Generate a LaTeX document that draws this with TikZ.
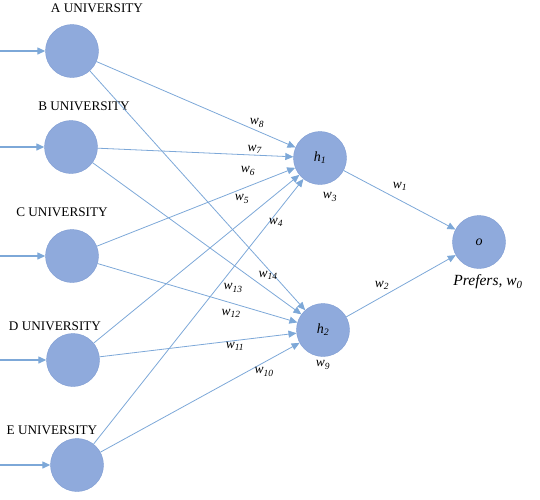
\documentclass[tikz,border=0pt]{standalone}
\usepackage{fontspec}
\setmainfont{Liberation Serif}
\usetikzlibrary{arrows.meta}
\definecolor{unitfill}{RGB}{143,170,220}
\definecolor{unitline}{RGB}{125,155,210}
\definecolor{linkblue}{RGB}{125,168,216}
\newcommand{\wlab}[1]{\textit{w}\textsubscript{\textit{#1}}}
\begin{document}
\begin{tikzpicture}[x=1pt,y=-1pt,
  unit/.style={circle, minimum size=53pt, inner sep=0pt, fill=unitfill, draw=unitline,
    font=\fontsize{14}{16}\selectfont},
  link/.style={draw=linkblue, line width=.8pt, -{Triangle[length=8pt,width=7pt]}},
  feed/.style={draw=linkblue, line width=1.3pt, -{Triangle[length=8pt,width=7pt]}},
  uni/.style={font=\fontsize{13.2}{15}\selectfont},
  wt/.style={font=\fontsize{13.5}{15}\selectfont}]
  \useasboundingbox (0,0) rectangle (540,499);
  % input units
  \node [unit] (A) at (72,51) {};
  \node [unit] (B) at (71,147) {};
  \node [unit] (C) at (72,256) {};
  \node [unit] (D) at (73,360) {};
  \node [unit] (E) at (77,465) {};
  \node [uni] (Alab) at (97,8) {A UNIVERSITY};
  \node [uni] (Blab) at (84,106) {B UNIVERSITY};
  \node [uni] (Clab) at (62,212) {C UNIVERSITY};
  \node [uni] (Dlab) at (55,326) {D UNIVERSITY};
  \node [uni] (Elab) at (52,430) {E UNIVERSITY};
  % hidden and output units
  \node [unit] (h1) at (320,158) {\textit{h}\textsubscript{\textit{1}}};
  \node [unit] (h2) at (323,330) {\textit{h}\textsubscript{\textit{2}}};
  \node [unit] (o) at (479,242) {\textit{o}};
  \node [font=\fontsize{15.5}{17}\selectfont\itshape] (olab) at (488,282) {Prefers, w\textsubscript{0}};
  % feeding arrows
  \coordinate (inA) at (0,51);
  \coordinate (inB) at (0,147);
  \coordinate (inC) at (0,256);
  \coordinate (inD) at (0,360);
  \coordinate (inE) at (0,465);
  \draw [feed] (inA) -- (A);
  \draw [feed] (inB) -- (B);
  \draw [feed] (inC) -- (C);
  \draw [feed] (inD) -- (D);
  \draw [feed] (inE) -- (E);
  % connections
  \draw [link] (A) -- (h1);
  \draw [link] (B) -- (h1);
  \draw [link] (C) -- (h1);
  \draw [link] (D) -- (h1);
  \draw [link] (E) -- (h1);
  \draw [link] (A) -- (h2);
  \draw [link] (B) -- (h2);
  \draw [link] (C) -- (h2);
  \draw [link] (D) -- (h2);
  \draw [link] (E) -- (h2);
  \draw [link] (h1) -- (o);
  \draw [link] (h2) -- (o);
  % weights
  \node [wt] (w8) at (257,123) {\wlab{8}};
  \node [wt] (w7) at (255,149) {\wlab{7}};
  \node [wt] (w6) at (248,171) {\wlab{6}};
  \node [wt] (w5) at (242,199) {\wlab{5}};
  \node [wt] (w4) at (276,222) {\wlab{4}};
  \node [wt] (w3) at (330,197) {\wlab{3}};
  \node [wt] (w1) at (400,186) {\wlab{1}};
  \node [wt] (w2) at (382,285) {\wlab{2}};
  \node [wt] (w14) at (268,275) {\wlab{14}};
  \node [wt] (w13) at (233,288) {\wlab{13}};
  \node [wt] (w12) at (231,313) {\wlab{12}};
  \node [wt] (w11) at (235,346) {\wlab{11}};
  \node [wt] (w10) at (264,372) {\wlab{10}};
  \node [wt] (w9) at (323,365) {\wlab{9}};
\end{tikzpicture}
\end{document}
